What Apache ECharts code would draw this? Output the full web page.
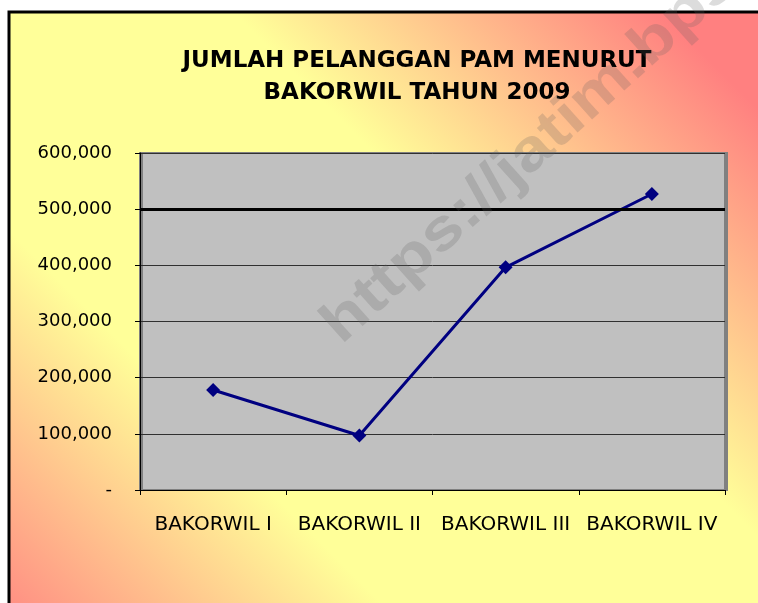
<!DOCTYPE html>
<html>
<head>
<meta charset="utf-8">
<script src="https://cdn.jsdelivr.net/npm/echarts@6/dist/echarts.min.js"></script>
<style>
html,body{margin:0;padding:0;background:#ffffff;}
#chart{width:758px;height:603px;}
</style>
</head>
<body>
<div id="chart"></div>
<script>
// ---- data ----
const chartTitle = 'JUMLAH PELANGGAN PAM MENURUT\nBAKORWIL TAHUN 2009';
const categories = ['BAKORWIL I', 'BAKORWIL II', 'BAKORWIL III', 'BAKORWIL IV'];
const customers = [178000, 97000, 396500, 527000];
const yMin = 0;
const yMax = 600000;
const yStep = 100000;
const referenceLevel = [500000];
const watermarkText = 'https://jatim.bps.go.id';

const chart = echarts.init(document.getElementById('chart'), null, {renderer: 'canvas'});

function fmt(v) {
  if (v === 0) return '-';
  return v.toString().replace(/\B(?=(\d{3})+(?!\d))/g, ',');
}

const option = {
  backgroundColor: 'transparent',
  animation: false,
  title: {
    text: chartTitle,
    left: 412,
    top: 40,
    textAlign: 'center',
    textStyle: {
      fontFamily: 'DejaVu Sans',
      fontWeight: 'bold',
      fontSize: 23,
      lineHeight: 32,
      color: '#000'
    }
  },
  graphic: [
    {
      type: 'rect',
      z: -100,
      silent: true,
      shape: {x: 9, y: 12, width: 770, height: 610},
      style: {
        fill: {
          type: 'linear', x: 325, y: -325, x2: -325, y2: 325, global: true,
          colorStops: [
            {offset: 0, color: '#ff8080'},
            {offset: 0.33, color: '#ffff99'},
            {offset: 0.67, color: '#ffff99'},
            {offset: 1, color: '#ff8080'}
          ]
        },
        stroke: '#000',
        lineWidth: 3
      }
    },
    {
      type: 'text',
      z: 100,
      silent: true,
      x: 350,
      y: 355,
      rotation: 42 * Math.PI / 180,
      scaleX: 1.2,
      scaleY: 1,
      style: {
        text: watermarkText,
        font: 'bold 58px "Liberation Sans"',
        fill: 'rgba(96,96,96,0.22)',
        textAlign: 'left',
        textVerticalAlign: 'bottom'
      }
    }
  ],
  grid: {
    show: true,
    left: 140,
    top: 153,
    right: 33,
    bottom: 113,
    backgroundColor: '#c0c0c0',
    borderColor: '#808080',
    borderWidth: 2,
    shadowColor: '#808080',
    shadowOffsetX: 2,
    shadowOffsetY: 0,
    shadowBlur: 0
  },
  xAxis: {
    type: 'category',
    data: categories,
    boundaryGap: true,
    axisLine: {show: true, lineStyle: {color: '#000', width: 1}},
    axisTick: {show: true, inside: false, length: 5, lineStyle: {color: '#000'}},
    axisLabel: {
      margin: 25,
      color: '#000',
      fontFamily: 'DejaVu Sans',
      fontSize: 20,
      interval: 0
    },
    splitLine: {show: false}
  },
  yAxis: {
    type: 'value',
    min: yMin,
    max: yMax,
    interval: yStep,
    axisLine: {show: true, lineStyle: {color: '#000', width: 1}},
    axisTick: {show: true, inside: false, length: 5, lineStyle: {color: '#000'}},
    axisLabel: {
      margin: 28,
      color: '#000',
      fontFamily: 'DejaVu Sans',
      fontSize: 18,
      formatter: fmt
    },
    splitLine: {show: true, lineStyle: {color: '#303030', width: 1}}
  },
  series: [
    {
      type: 'line',
      data: customers,
      symbol: 'diamond',
      symbolSize: 14,
      lineStyle: {color: '#000080', width: 3},
      itemStyle: {color: '#000080'},
      markLine: {
        silent: true,
        symbol: 'none',
        label: {show: false},
        lineStyle: {color: '#000', width: 3, type: 'solid'},
        data: referenceLevel.map(v => ({yAxis: v}))
      }
    }
  ]
};

chart.setOption(option);
</script>
</body>
</html>
